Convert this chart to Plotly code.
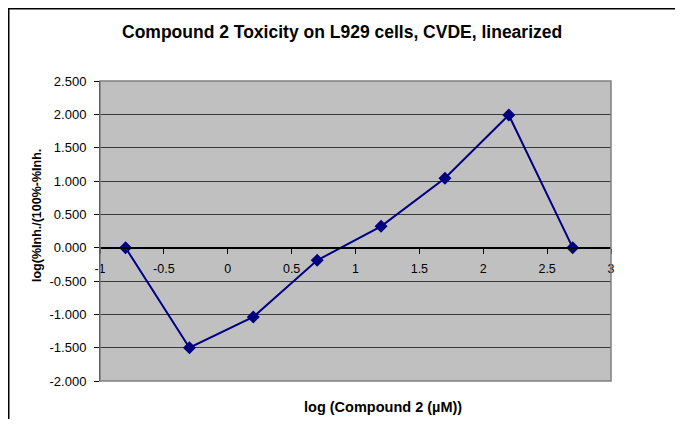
import plotly.graph_objects as go

# Data
x_vals = [-0.8, -0.3, 0.2, 0.7, 1.2, 1.7, 2.2, 2.7]
y_vals = [0.0, -1.5, -1.04, -0.19, 0.32, 1.04, 1.99, 0.0]

x_ticks = [-1, -0.5, 0, 0.5, 1, 1.5, 2, 2.5, 3]
x_tick_labels = ["-1", "-0.5", "0", "0.5", "1", "1.5", "2", "2.5", "3"]
y_ticks = [-2, -1.5, -1, -0.5, 0, 0.5, 1, 1.5, 2, 2.5]
y_tick_labels = ["-2.000", "-1.500", "-1.000", "-0.500", "0.000",
                 "0.500", "1.000", "1.500", "2.000", "2.500"]

title_text = "Compound 2 Toxicity on L929 cells, CVDE, linearized"
x_title = "log (Compound 2 (µM))"
y_title = "log(%Inh./(100%-%Inh."

OFF = 8  # page body margin
W, H = 683 - OFF, 427 - 2 * OFF
ml, mt = 100 - OFF, 81 - OFF
pw, ph = 511, 300
mr = W - ml - pw
mb = H - mt - ph

y_min, y_max = -2, 2.5
zero_pos = (0 - y_min) / (y_max - y_min)

FONT = "Liberation Sans, Arial, sans-serif"

fig = go.Figure()
fig.add_trace(go.Scatter(
    x=x_vals, y=y_vals, mode="lines+markers",
    line=dict(color="#000080", width=2),
    marker=dict(symbol="diamond", size=10, color="#000080"),
    showlegend=False, cliponaxis=False,
))

def px_x(sx):
    return (sx - OFF - ml) / pw

def px_y(sy):
    return (mt + ph - (sy - OFF)) / ph

fig.update_layout(
    width=W, height=H,
    margin=dict(l=ml, r=mr, t=mt, b=mb),
    paper_bgcolor="white",
    plot_bgcolor="#c0c0c0",
    font=dict(family=FONT, color="black", size=12),
    xaxis=dict(
        range=[-1, 3], tickvals=x_ticks, ticktext=x_tick_labels,
        anchor="free", position=zero_pos,
        showline=True, linecolor="black", linewidth=2,
        ticks="outside", ticklen=5, tickcolor="black", tickwidth=1,
        ticklabelstandoff=4,
        showgrid=False, zeroline=False,
        tickfont=dict(size=12.5),
    ),
    yaxis=dict(
        range=[y_min, y_max], tickvals=y_ticks, ticktext=y_tick_labels,
        domain=[0, 1],
        showline=True, linecolor="black", linewidth=1,
        ticks="outside", ticklen=5, tickcolor="black",
        ticklabelstandoff=5,
        showgrid=True, gridcolor="#383838", gridwidth=1,
        zeroline=False,
        tickfont=dict(size=13),
    ),
    shapes=[
        # plot-area border
        dict(type="rect", xref="paper", yref="paper", x0=0, x1=1, y0=0, y1=1,
             line=dict(color="#808080", width=1.5), layer="above"),
        # outer chart border
        dict(type="rect", xref="paper", yref="paper",
             x0=px_x(OFF + 0.75), x1=px_x(720), y0=px_y(460), y1=px_y(OFF + 0.75),
             line=dict(color="black", width=1.5), layer="above"),
    ],
    annotations=[
        dict(text="<b>" + title_text + "</b>", xref="paper", yref="paper",
             x=px_x(342), y=px_y(32), showarrow=False,
             xanchor="center", yanchor="middle",
             font=dict(size=17.5, family=FONT)),
        dict(text="<b>" + x_title + "</b>", xref="paper", yref="paper",
             x=px_x(383), y=px_y(407), showarrow=False,
             xanchor="center", yanchor="middle",
             font=dict(size=14.5, family=FONT)),
        dict(text="<b>" + y_title + "</b>", xref="paper", yref="paper",
             x=px_x(37), y=px_y(216), showarrow=False, textangle=-90,
             xanchor="center", yanchor="middle",
             font=dict(size=12.5, family=FONT)),
    ],
)

fig.write_html("out.html")
